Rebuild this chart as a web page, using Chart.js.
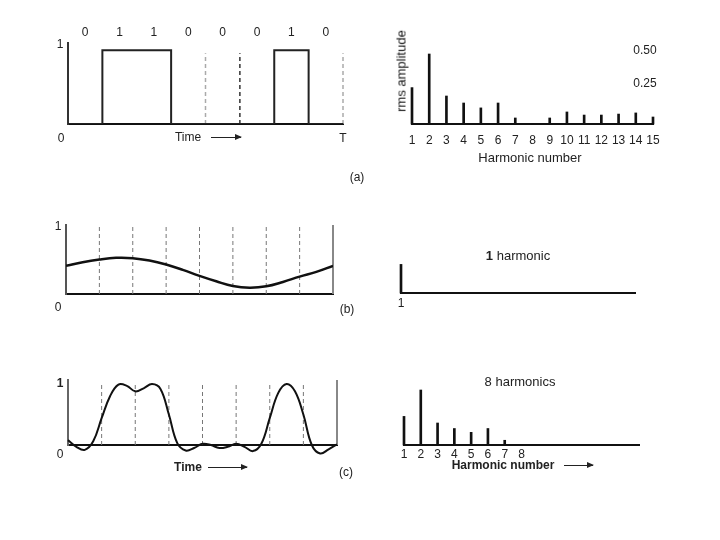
<!DOCTYPE html>
<html>
<head>
<meta charset="utf-8">
<title>Harmonics of 01100010</title>
<script src="https://cdn.jsdelivr.net/npm/chart.js@4.4.0/dist/chart.umd.min.js"></script>
<style>
  body { margin: 0; background: #fff; }
  #fig { position: relative; width: 720px; height: 540px; overflow: hidden;
         font-family: "Liberation Sans", Arial, sans-serif; color: #222; }
  #fig canvas { position: absolute; }
  .t { position: absolute; font-size: 12px; line-height: 1; white-space: nowrap;
       transform: translate(-50%, -50%); }
  .v { transform: translate(-50%, -50%) rotate(-90deg); font-size: 13px; color: #111; }
  .arrow { position: absolute; height: 1px; background: #222; }
  .arrow::after { content: ""; position: absolute; right: -1px; top: -3px;
                  border-left: 7px solid #222; border-top: 3.5px solid transparent;
                  border-bottom: 3.5px solid transparent; }
</style>
</head>
<body>
<div id="fig">
  <canvas id="sigA" width="380" height="200" style="left:0;top:0"></canvas>
  <canvas id="specA" width="340" height="200" style="left:380px;top:0"></canvas>
  <canvas id="sigB" width="380" height="130" style="left:0;top:200px"></canvas>
  <canvas id="specB" width="340" height="130" style="left:380px;top:200px"></canvas>
  <canvas id="sigC" width="380" height="160" style="left:0;top:340px"></canvas>
  <canvas id="specC" width="340" height="160" style="left:380px;top:340px"></canvas>

  <!-- (a) -->
  <span class="t" style="left:60px;top:44px">1</span>
  <span class="t" style="left:61px;top:138px">0</span>
  <span class="t" style="left:343px;top:138px">T</span>
  <span class="t" style="left:188px;top:137px">Time</span>
  <div class="arrow" style="left:211px;top:137px;width:30px"></div>
  <span class="t" style="left:357px;top:177px">(a)</span>
  <span class="t v" style="left:401px;top:71px">rms amplitude</span>
  <span class="t" style="left:645px;top:50px">0.50</span>
  <span class="t" style="left:645px;top:83px">0.25</span>
  <span class="t" style="left:530px;top:157px;font-size:13px">Harmonic number</span>

  <!-- (b) -->
  <span class="t" style="left:58px;top:226px">1</span>
  <span class="t" style="left:58px;top:307px">0</span>
  <span class="t" style="left:347px;top:309px">(b)</span>
  <span class="t" style="left:518px;top:255px;font-size:13px"><b>1</b> harmonic</span>

  <!-- (c) -->
  <span class="t" style="left:60px;top:383px;font-weight:bold">1</span>
  <span class="t" style="left:60px;top:454px">0</span>
  <span class="t" style="left:188px;top:467px;font-weight:bold">Time</span>
  <div class="arrow" style="left:208px;top:467px;width:39px"></div>
  <span class="t" style="left:346px;top:472px">(c)</span>
  <span class="t" style="left:520px;top:381px;font-size:13px">8 harmonics</span>
  <span class="t" style="left:503px;top:465px;font-weight:bold">Harmonic number</span>
  <div class="arrow" style="left:564px;top:465px;width:29px"></div>
</div>

<script>
// ========== DATA ==========
const bits = [0, 1, 1, 0, 0, 0, 1, 0];
const harmonics = [1, 2, 3, 4, 5, 6, 7, 8, 9, 10, 11, 12, 13, 14, 15];
const rmsAmplitude = [0.26, 0.50, 0.20, 0.15, 0.115, 0.15, 0.043, 0, 0.043, 0.086, 0.064, 0.064, 0.071, 0.079, 0.05];

// dashed bit boundaries
const marksA = [4, 5, 8];
const marksBC = [1, 2, 3, 4, 5, 6, 7];

// 1 harmonic approximation (time in bit periods)
const oneTime = [0, 0.5, 1, 1.5, 2, 2.5, 3, 3.5, 4, 4.5, 5, 5.5, 6, 6.5, 7, 7.5, 8];
const oneValue = [0.42, 0.475, 0.515, 0.54, 0.535, 0.50, 0.44, 0.36, 0.27, 0.19, 0.12, 0.095, 0.115, 0.18, 0.26, 0.33, 0.42];

// 8 harmonics approximation
const eightTime = [0, 0.25, 0.5, 0.75, 1, 1.25, 1.5, 1.75, 2, 2.25, 2.5, 2.75, 3, 3.25, 3.5, 3.75, 4,
                   4.25, 4.5, 4.75, 5, 5.25, 5.5, 5.75, 6, 6.25, 6.5, 6.75, 7, 7.25, 7.5, 7.75, 8];
const eightValue = [0.08, -0.03, -0.08, 0.06, 0.44, 0.80, 0.99, 0.97, 0.88, 0.93, 1.0, 0.92, 0.50, 0.03, -0.09, -0.05, 0.02,
                    0.0, -0.05, -0.03, 0.02, -0.03, -0.10, 0.02, 0.44, 0.85, 1.0, 0.88, 0.50, 0.0, -0.14, -0.07, 0.01];

// ========== HELPERS ==========
const fixH = h => s => { s.height = h; };
const flatY = s => { s.width = 0; };

function base(pad) {
  return {
    responsive: false,
    animation: false,
    layout: { padding: pad },
    plugins: { legend: { display: false }, tooltip: { enabled: false } },
    elements: { point: { radius: 0 }, line: { tension: 0 } }
  };
}

function vline(t, top, color, width, dash) {
  return { data: [{ x: t, y: 0 }, { x: t, y: top }], borderColor: color, borderWidth: width,
           borderDash: dash || [], clip: false };
}

function timeAxes(ymax, yColor) {
  return {
    x: { type: 'linear', min: 0, max: 8, grid: { display: false }, ticks: { display: false },
         border: { color: '#111', width: 2 }, afterFit: fixH(0) },
    y: { type: 'linear', min: 0, max: ymax, grid: { display: false }, ticks: { display: false },
         border: { color: yColor, width: 2 }, afterFit: flatY }
  };
}

// axisH: height reserved for the harmonic tick row (taken out of pad.bottom)
function spectrum(el, n, ticks, pad, ymax, tickPad, axisH) {
  new Chart(el, {
    type: 'bar',
    data: {
      datasets: [{
        data: harmonics.slice(0, n).map((h, i) => ({ x: h, y: rmsAmplitude[i] })),
        backgroundColor: '#111', barThickness: 2, clip: false
      }]
    },
    options: {
      ...base({ ...pad, bottom: pad.bottom - axisH }),
      scales: {
        x: { type: 'linear', min: 1, max: 15, offset: false,
             grid: { display: false, drawTicks: false }, border: { color: '#111', width: 2 },
             afterBuildTicks: s => { s.ticks = ticks.map(h => ({ value: h })); },
             ticks: { padding: tickPad, font: { size: 12 }, color: '#222', autoSkip: false, maxRotation: 0 },
             afterFit: fixH(axisH) },
        y: { display: false, min: 0, max: ymax }
      }
    }
  });
}

// ========== (a) ==========
const pulse = bits.flatMap((b, i) => [{ x: i, y: b }, { x: i + 1, y: b }]);
const axesA = timeAxes(1.1, '#333');
axesA.x2 = {
  type: 'linear', position: 'top', min: 0, max: 8,
  grid: { display: false, drawTicks: false }, border: { display: false },
  afterBuildTicks: s => { s.ticks = bits.map((b, i) => ({ value: i + 0.5 })); },
  ticks: { callback: (v, i) => String(bits[i]), padding: 3, font: { size: 12 }, color: '#222',
           autoSkip: false, maxRotation: 0 },
  afterFit: fixH(20)
};
new Chart(document.getElementById('sigA'), {
  type: 'line',
  data: {
    datasets: [
      { data: pulse, borderColor: '#222', borderWidth: 2 },
      ...marksA.map(t => vline(t, 0.96, t === 5 ? '#333' : '#aaa', 1.5, [4, 3]))
    ]
  },
  options: { ...base({ left: 68, right: 37, top: 23, bottom: 76 }), scales: axesA }
});
spectrum(document.getElementById('specA'), 15, harmonics,
         { left: 32, right: 67, top: 47, bottom: 76 }, 0.55, 9, 26);

// ========== (b) ==========
new Chart(document.getElementById('sigB'), {
  type: 'line',
  data: {
    datasets: [
      { data: oneTime.map((t, i) => ({ x: t, y: oneValue[i] })), borderColor: '#111', borderWidth: 2.5, tension: 0.4 },
      ...marksBC.map(t => vline(t, 1.0, '#777', 1, [4, 3])),
      vline(8, 1.03, '#888', 2)
    ]
  },
  options: { ...base({ left: 66, right: 47, top: 25, bottom: 36 }), scales: timeAxes(1.03, '#555') }
});
spectrum(document.getElementById('specB'), 1, [1],
         { left: 21, right: 85, top: 32.5, bottom: 37 }, 0.55, 3, 20);

// ========== (c) ==========
new Chart(document.getElementById('sigC'), {
  type: 'line',
  data: {
    datasets: [
      { data: eightTime.map((t, i) => ({ x: t, y: eightValue[i] })), borderColor: '#111', borderWidth: 2,
        tension: 0.4, clip: false },
      ...marksBC.map(t => vline(t, 1.03, '#777', 1, [4, 3])),
      vline(8, 1.066, '#888', 2)
    ]
  },
  options: { ...base({ left: 68, right: 43, top: 40, bottom: 55 }), scales: timeAxes(1.066, '#666') }
});
spectrum(document.getElementById('specC'), 8, [1, 2, 3, 4, 5, 6, 7, 8],
         { left: 24, right: 81, top: 44.5, bottom: 55 }, 0.55, 2, 20);
</script>
</body>
</html>
